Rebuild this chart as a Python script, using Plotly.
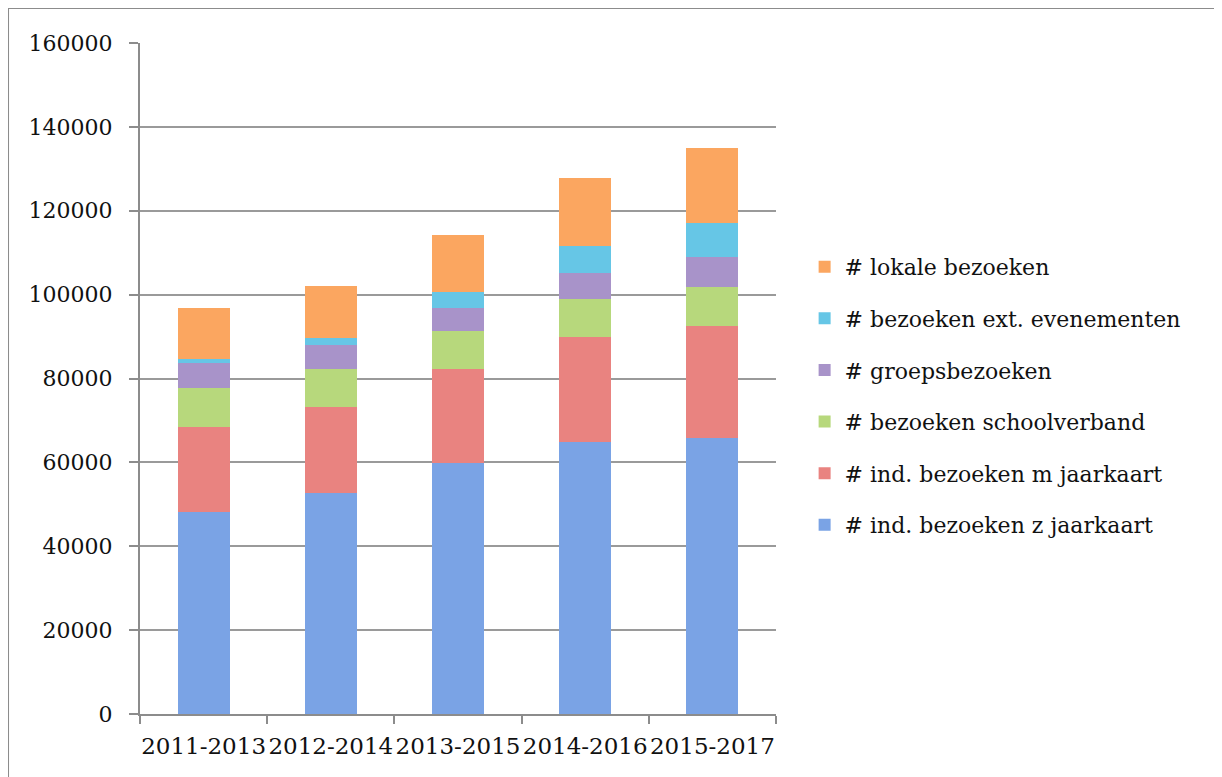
import plotly.graph_objects as go

categories = ["2011-2013", "2012-2014", "2013-2015", "2014-2016", "2015-2017"]

ind_z_jaarkaart = [48200, 52700, 59850, 64860, 65810]
ind_m_jaarkaart = [20300, 20500, 22490, 25040, 26790]
schoolverband = [9300, 9060, 8990, 9140, 9220]
groepsbezoeken = [6000, 5730, 5560, 6120, 7150]
ext_evenementen = [900, 1670, 3740, 6440, 8110]
lokale_bezoeken = [12200, 12400, 13590, 16210, 17880]

series = [
    ("# ind. bezoeken z jaarkaart", ind_z_jaarkaart, "#7aa3e5"),
    ("# ind. bezoeken m jaarkaart", ind_m_jaarkaart, "#e98380"),
    ("# bezoeken schoolverband", schoolverband, "#b7d87c"),
    ("# groepsbezoeken", groepsbezoeken, "#a893c9"),
    ("# bezoeken ext. evenementen", ext_evenementen, "#66c6e6"),
    ("# lokale bezoeken", lokale_bezoeken, "#fba660"),
]

FONT = "DejaVu Serif"

fig = go.Figure()
n = len(series)
for i, (name, vals, color) in enumerate(series):
    fig.add_trace(go.Bar(
        x=categories, y=vals, name=name,
        marker=dict(color=color, line=dict(width=0)),
        legendgroup=f"g{i}",
        legendrank=n - i,
    ))

fig.update_layout(
    barmode="stack",
    bargap=0.59,
    width=1222, height=777,
    margin=dict(l=132, r=454, t=35, b=71, autoexpand=False),
    paper_bgcolor="white",
    plot_bgcolor="white",
    font=dict(family=FONT, size=22, color="#111111"),
    legend=dict(
        traceorder="grouped",
        tracegroupgap=20,
        x=1.045, xanchor="left",
        y=0.474, yanchor="middle",
        font=dict(family=FONT, size=22, color="#111111"),
        itemwidth=30,
        bgcolor="rgba(0,0,0,0)",
    ),
    xaxis=dict(
        showline=True, linecolor="#8c8c8c", linewidth=2,
        ticks="outside", tickson="boundaries", ticklen=8,
        tickcolor="#8c8c8c", tickwidth=2,
        showgrid=False, tickangle=0, automargin=False,
        ticklabelstandoff=10,
        tickfont=dict(family=FONT, size=23),
    ),
    yaxis=dict(
        range=[0, 160000], dtick=20000,
        showline=True, linecolor="#8c8c8c", linewidth=2,
        ticks="outside", ticklen=9, tickcolor="#8c8c8c", tickwidth=2,
        showgrid=True, gridcolor="#9a9a9a", gridwidth=2,
        zeroline=False, automargin=False,
        ticklabelstandoff=12,
        tickformat="d",
        tickfont=dict(family=FONT, size=22),
    ),
    shapes=[dict(
        type="rect", xref="paper", yref="paper",
        x0=-0.2075, x1=1.695, y0=-0.3, y1=1.052,
        line=dict(color="#8c8c8c", width=2),
        fillcolor="rgba(0,0,0,0)", layer="below",
    )],
)

fig.write_html("out.html")
